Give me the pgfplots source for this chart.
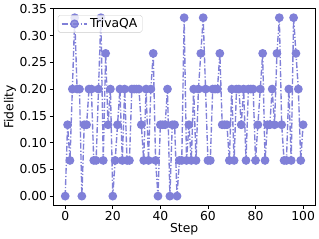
\documentclass[border=0pt]{standalone}
\usepackage{pgfplots}
\usepackage{pgfplotstable}
\pgfplotsset{compat=1.18}
\usepackage{fontspec}
\setmainfont{DejaVu Sans}
\definecolor{lc}{RGB}{128,128,216}
\pgfplotsset{mylegend/.style={legend image code/.code={\draw[mark repeat=2,mark phase=2,##1] plot coordinates {(0bp,0bp) (13bp,0bp) (26bp,0bp)};}}}
\pgfplotstableread{
s L
0 0
1 2
2 1
3 3
4 5
5 3
6 3
7 0
8 2
9 2
10 3
11 3
12 1
13 1
14 3
15 5
16 1
17 4
18 2
19 3
20 0
21 1
22 2
23 3
24 1
25 3
26 1
27 1
28 3
29 3
30 3
31 3
32 2
33 1
34 3
35 1
36 3
37 4
38 1
39 0
40 2
41 2
42 2
43 3
44 0
45 2
46 2
47 0
48 1
49 1
50 5
51 1
52 2
53 1
54 3
55 1
56 3
57 4
58 5
59 3
60 1
61 1
62 3
63 3
64 3
65 4
66 2
67 2
68 2
69 1
70 3
71 1
72 3
73 3
74 2
75 3
76 1
77 3
78 3
79 3
80 1
81 2
82 3
83 4
84 1
85 2
86 2
87 3
88 2
89 4
90 5
91 2
92 1
93 1
94 3
95 1
96 5
97 4
98 3
99 1
100 2
}\data
\begin{document}
\fontsize{12.5}{15}\selectfont
\begin{tikzpicture}
\begin{axis}[
  width=264bp, height=198bp, scale only axis,
  xmin=-5, xmax=105, ymin=-0.01667, ymax=0.35,
  xtick={0,20,40,60,80,100},
  ytick={0,0.05,0.1,0.15,0.2,0.25,0.3,0.35},
  yticklabel style={/pgf/number format/fixed, /pgf/number format/fixed zerofill, /pgf/number format/precision=2, xshift=1.5bp},
  /pgf/number format/assume math mode=true,
  tick pos=left, tick align=outside, major tick length=3.5bp,
  every tick/.style={black, line width=0.6pt},
  axis line style={black, line width=0.6pt},
  ticklabel style={font=\fontsize{12.5}{15}\selectfont},
  xticklabel style={yshift=1.5bp},
  label style={font=\fontsize{12.5}{15}\selectfont},
  xlabel={Step}, ylabel={Fidelity},
  xlabel style={yshift=6bp},
  ylabel style={yshift=-5bp},
  legend style={at={(0.017,0.968)}, anchor=north west, draw=black!20, fill=white, fill opacity=0.8, text opacity=1, rounded corners=2bp, font=\fontsize{12.5}{15}\selectfont, inner xsep=3bp, inner ysep=1bp},
  legend cell align=left,
]
\addplot[color=lc, line width=1.4pt, dash pattern=on 6bp off 2bp on 1.2bp off 2bp, mark=*, mark size=3.7bp, mark options={solid, fill=lc, draw=lc}, mylegend]
  table[x=s, y expr=\thisrow{L}/15] {\data};
\addlegendentry{TrivaQA}
\end{axis}
\end{tikzpicture}
\end{document}
